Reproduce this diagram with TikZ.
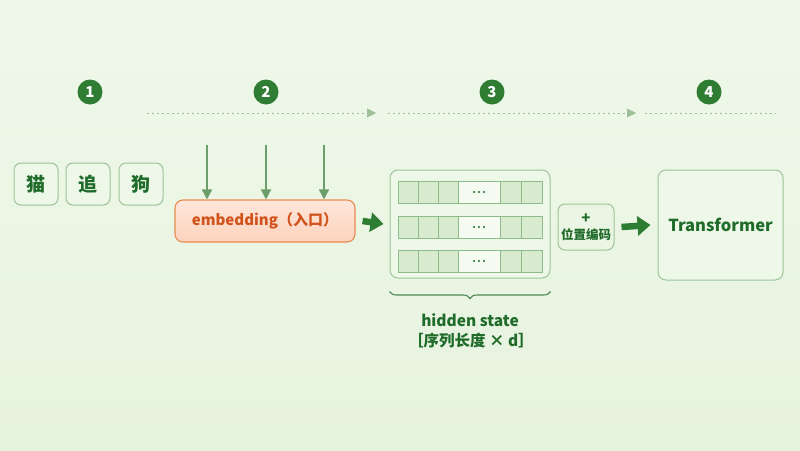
\documentclass[tikz,border=0pt]{standalone}
\usepackage{fontspec}
\setmainfont{Noto Sans CJK SC}
\usetikzlibrary{arrows.meta,decorations.pathreplacing}
\definecolor{bgA}{HTML}{EFF8EA}
\definecolor{bgB}{HTML}{E6F3DE}
\definecolor{dkgreen}{HTML}{2E7D32}
\definecolor{txgreen}{HTML}{1F6B2A}
\definecolor{bdgreen}{HTML}{9CC498}
\definecolor{cellfill}{HTML}{D8EBCF}
\definecolor{cellbd}{HTML}{8EBB8A}
\definecolor{dotline}{HTML}{9DBF98}
\definecolor{varrow}{HTML}{6A9E6A}
\definecolor{salmon}{HTML}{FDD3BD}
\definecolor{salmonbd}{HTML}{E98A52}
\definecolor{orangetx}{HTML}{D2521C}
\definecolor{boxfill}{HTML}{EEF8E8}
\tikzset{
  numc/.style={circle,fill=dkgreen,text=white,font=\bfseries\fontsize{15}{15}\selectfont,minimum size=25pt,inner sep=0pt},
  tokbox/.style={draw=bdgreen,line width=1pt,rounded corners=7pt,fill=boxfill,minimum width=44pt,minimum height=42pt,inner sep=0pt,text=txgreen,font=\bfseries\fontsize{19}{19}\selectfont},
  dotted line/.style={dotline,dash pattern=on 2pt off 3pt,line width=0.8pt},
  darr/.style={-{Triangle[length=9pt,width=9pt]},dotline,line width=0.8pt,dash pattern=on 2pt off 3pt},
  varr/.style={varrow,line width=1.6pt,-{Triangle[length=10pt,width=10pt]}},
  bigarr/.style={dkgreen,line width=6.5pt,-{Triangle[length=13pt,width=19pt]}},
  cell/.style={draw=cellbd,line width=0.9pt,fill=cellfill},
  dcell/.style={draw=cellbd,line width=0.9pt,fill=boxfill!60!white},
  lbl/.style={text=txgreen,font=\bfseries\fontsize{15.5}{15.5}\selectfont}
}
\begin{document}
\begin{tikzpicture}[x=1pt,y=-1pt]
\useasboundingbox (0,0) rectangle (800,450);
\shade[top color=bgA,bottom color=bgB] (0,0) rectangle (800,450);
% numbers
\node[numc] (n1) at (90,92) {1};
\node[numc] (n2) at (266,92) {2};
\node[numc] (n3) at (492,92) {3};
\node[numc] (n4) at (709,92) {4};
% dotted timeline
\coordinate (d1a) at (147,113); \coordinate (d1b) at (376,113);
\coordinate (d2a) at (388,113); \coordinate (d2b) at (636,113);
\coordinate (d3a) at (645,113); \coordinate (d3b) at (776,113);
\draw[darr] (d1a) -- (d1b);
\draw[darr] (d2a) -- (d2b);
\draw[dotted line] (d3a) -- (d3b);
% tokens
\node[tokbox] (t1) at (36,184) {猫};
\node[tokbox] (t2) at (88,184) {追};
\node[tokbox] (t3) at (141,184) {狗};
% embedding
\node[draw=salmonbd,line width=1.1pt,rounded corners=8pt,top color=salmon!55!white,bottom color=salmon,minimum width=180pt,minimum height=42pt,text=orangetx,font=\bfseries\fontsize{15}{15}\selectfont] (emb) at (265,221) {embedding（入口）};
\coordinate (v1) at (207,145); \coordinate (v2) at (266,145); \coordinate (v3) at (324,145);
\draw[varr] (v1) -- (v1 |- emb.north);
\draw[varr] (v2) -- (v2 |- emb.north);
\draw[varr] (v3) -- (v3 |- emb.north);
% hidden state container
\node[draw=bdgreen,line width=1pt,rounded corners=8pt,fill=boxfill,minimum width=160pt,minimum height=108pt,inner sep=0pt] (hs) at (470,224) {};
\draw[bigarr] ([xshift=7pt]emb.east) -- ([xshift=-6pt]hs.west);
\foreach \r/\y in {1/181,2/216,3/250}{
  \draw[cell] (398,\y) rectangle (418,\y+22);
  \draw[cell] (418,\y) rectangle (438,\y+22);
  \draw[cell] (438,\y) rectangle (458,\y+22);
  \draw[dcell] (458,\y) rectangle (500,\y+22);
  \draw[cell] (500,\y) rectangle (521,\y+22);
  \draw[cell] (521,\y) rectangle (542,\y+22);
  \coordinate (dots\r) at (479,\y+11);
  \foreach \dx in {-5,0,5} \fill[txgreen] ([xshift=\dx pt]dots\r) circle (1.1pt);
}
% brace
\draw[txgreen!80,line width=1.1pt,decorate,decoration={brace,mirror,amplitude=7pt}] ([yshift=-13pt]hs.south west) -- ([yshift=-13pt]hs.south east);
\node[lbl] (hl) at (470,320) {hidden state};
\node[lbl] (hl2) at (471,341) {［序列长度 × d］};
% position encoding
\node[draw=bdgreen,line width=1pt,rounded corners=7pt,fill=boxfill!80!cellfill,minimum width=56pt,minimum height=46pt,inner sep=0pt,text=txgreen,font=\bfseries\fontsize{12.5}{16}\selectfont,align=center] (pe) at (586,227) {{\fontsize{15}{15}\selectfont +}\\位置编码};
% transformer
\node[draw=bdgreen,line width=1pt,rounded corners=8pt,fill=boxfill,minimum width=125pt,minimum height=110pt,inner sep=0pt,text=txgreen,font=\bfseries\fontsize{16.5}{16.5}\selectfont] (tf) at (720.5,225) {Transformer};
\draw[bigarr] ([xshift=7pt]pe.east) -- ([xshift=-7pt]tf.west);
\end{tikzpicture}
\end{document}
